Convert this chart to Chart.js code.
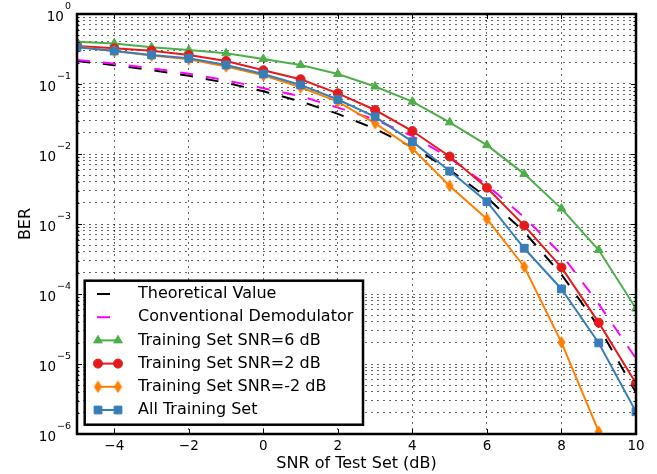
<!DOCTYPE html>
<html>
<head>
<meta charset="utf-8">
<script src="https://cdn.jsdelivr.net/npm/chart.js@4.4.1/dist/chart.umd.min.js"></script>
<style>
  html, body { margin: 0; padding: 0; background: #fff; }
  #wrap { width: 657px; height: 474px; }
</style>
</head>
<body>
<div id="wrap"><canvas id="berChart" width="657" height="474"></canvas></div>
<script>
// SNR of test set (dB)
const snr = [-5, -4, -3, -2, -1, 0, 1, 2, 3, 4, 5, 6, 7, 8, 9, 10];
const xTickValues = [-4, -2, 0, 2, 4, 6, 8, 10];
const yDecades = [-6, -5, -4, -3, -2, -1, 0];

// BER values
const theoretical = [0.213, 0.186, 0.158, 0.131, 0.104, 0.0786, 0.0563, 0.0375, 0.0229, 0.0125, 0.00595, 0.00239, 7.7e-4, 1.9e-4, 3.4e-5, 3.9e-6];
const conventional = [0.22, 0.195, 0.168, 0.14, 0.113, 0.087, 0.067, 0.046, 0.031, 0.018, 0.0088, 0.0036, 0.00125, 3.7e-4, 7.2e-5, 1.2e-5];
const train6dB = [0.40, 0.38, 0.335, 0.306, 0.274, 0.228, 0.187, 0.139, 0.092, 0.056, 0.0283, 0.0134, 0.0052, 0.00166, 4.25e-4, 6.2e-5];
const train2dB = [0.35, 0.323, 0.299, 0.26, 0.213, 0.157, 0.117, 0.0736, 0.0425, 0.0213, 0.0092, 0.0033, 9.5e-4, 2.4e-4, 3.9e-5, 5.3e-6];
const trainM2dB = [0.34, 0.295, 0.255, 0.225, 0.178, 0.133, 0.09, 0.056, 0.0274, 0.012, 0.0035, 0.00118, 2.45e-4, 2.04e-5, 1.08e-6, 4e-8];
const trainAll = [0.334, 0.296, 0.26, 0.233, 0.187, 0.139, 0.097, 0.06, 0.034, 0.015, 0.0057, 0.00208, 4.5e-4, 1.18e-4, 2.0e-5, 2.08e-6];

const FONT = '"DejaVu Sans", sans-serif';

// thin diamond marker (matplotlib 'd')
const thinDiamond = document.createElement("canvas");
thinDiamond.width = 9;
thinDiamond.height = 13;
(function () {
  const c = thinDiamond.getContext("2d");
  c.fillStyle = "#ff7f00";
  c.strokeStyle = "#ff7f00";
  c.lineWidth = 1;
  c.beginPath();
  c.moveTo(4.5, 0.8);
  c.lineTo(8, 6.5);
  c.lineTo(4.5, 12.2);
  c.lineTo(1, 6.5);
  c.closePath();
  c.fill();
  c.stroke();
})();

function lineSet(label, data, color, marker, radius, order) {
  return {
    label, data, order,
    borderColor: color,
    backgroundColor: color,
    borderWidth: 2,
    pointStyle: marker,
    pointRadius: radius,
    pointBackgroundColor: color,
    pointBorderColor: color,
    pointBorderWidth: 1,
    tension: 0,
  };
}
function dashSet(label, data, color, order) {
  return {
    label, data, order,
    borderColor: color,
    borderWidth: 2,
    borderDash: [13, 13],
    pointRadius: 0,
    tension: 0,
  };
}

const datasets = [
  dashSet("Theoretical Value", theoretical, "#000000", 6),
  dashSet("Conventional Demodulator", conventional, "#ff00ff", 5),
  lineSet("Training Set SNR=6 dB", train6dB, "#4daf4a", "triangle", 5, 4),
  lineSet("Training Set SNR=2 dB", train2dB, "#e41a1c", "circle", 4.5, 3),
  lineSet("Training Set SNR=-2 dB", trainM2dB, "#ff7f00", thinDiamond, 5, 2),
  lineSet("All Training Set", trainAll, "#377eb8", "rect", 5.5, 1),
];

const yGridValues = [];
yDecades.forEach((e) => {
  if (e === 0) { yGridValues.push(1); return; }
  for (let m = 1; m <= 9; m++) yGridValues.push(m * Math.pow(10, e));
});

function drawMarker(ctx, style, x, y, r, color) {
  ctx.save();
  ctx.setLineDash([]);
  if (style instanceof HTMLCanvasElement) {
    ctx.drawImage(style, x - style.width / 2, y - style.height / 2);
    ctx.restore();
    return;
  }
  ctx.fillStyle = color;
  ctx.strokeStyle = color;
  ctx.lineWidth = 1;
  ctx.beginPath();
  if (style === "circle") {
    ctx.arc(x, y, r, 0, Math.PI * 2);
  } else if (style === "triangle") {
    let a = 0;
    ctx.moveTo(x + Math.sin(a) * r, y - Math.cos(a) * r);
    a += (2 * Math.PI) / 3;
    ctx.lineTo(x + Math.sin(a) * r, y - Math.cos(a) * r);
    a += (2 * Math.PI) / 3;
    ctx.lineTo(x + Math.sin(a) * r, y - Math.cos(a) * r);
    ctx.closePath();
  } else if (style === "rect") {
    const h = r * Math.SQRT1_2;
    ctx.rect(x - h, y - h, 2 * h, 2 * h);
  }
  ctx.fill();
  ctx.stroke();
  ctx.restore();
}

const frameAndLegend = {
  id: "frameAndLegend",
  afterDatasetsDraw(chart) {
    const { ctx, chartArea: a, scales } = chart;
    const xs = scales.x, ys = scales.y;
    ctx.save();
    ctx.strokeStyle = "#000";
    ctx.setLineDash([]);
    // inward ticks
    ctx.lineWidth = 1;
    ctx.beginPath();
    xTickValues.forEach((v) => {
      const px = Math.round(xs.getPixelForValue(v)) + 0.5;
      ctx.moveTo(px, a.bottom); ctx.lineTo(px, a.bottom - 5);
      ctx.moveTo(px, a.top); ctx.lineTo(px, a.top + 5);
    });
    yGridValues.forEach((v) => {
      const py = Math.round(ys.getPixelForValue(v)) + 0.5;
      const major = Math.abs(Math.log10(v) - Math.round(Math.log10(v))) < 1e-9;
      const len = major ? 5 : 2.5;
      ctx.moveTo(a.left, py); ctx.lineTo(a.left + len, py);
      ctx.moveTo(a.right, py); ctx.lineTo(a.right - len, py);
    });
    ctx.stroke();
    // axes frame
    ctx.lineWidth = 2.5;
    ctx.strokeRect(a.left, a.top, a.right - a.left, a.bottom - a.top);

    // y tick labels 10^n
    const baseFont = "13.5px " + FONT;
    const supFont = "9.5px " + FONT;
    ctx.fillStyle = "#000";
    ctx.textBaseline = "middle";
    yDecades.forEach((e) => {
      const py = ys.getPixelForValue(Math.pow(10, e));
      const expText = e < 0 ? "\u2212" + -e : String(e);
      ctx.font = supFont;
      const ew = ctx.measureText(expText).width;
      const right = 71;
      ctx.textAlign = "left";
      ctx.fillText(expText, right - ew, py - 7);
      ctx.font = baseFont;
      ctx.textAlign = "right";
      ctx.fillText("10", right - ew - 1, py + 3);
    });
    ctx.restore();
  },
  afterDraw(chart) {
    const ctx = chart.ctx;
    const box = { x: 84.7, y: 280.7, w: 363 - 84.7, h: 424.7 - 280.7 };
    ctx.save();
    ctx.fillStyle = "#fff";
    ctx.fillRect(box.x, box.y, box.w, box.h);
    ctx.lineWidth = 2.5;
    ctx.strokeStyle = "#000";
    ctx.setLineDash([]);
    ctx.strokeRect(box.x, box.y, box.w, box.h);

    ctx.font = "16px " + FONT;
    ctx.textAlign = "left";
    ctx.textBaseline = "middle";
    chart.data.datasets.forEach((ds, i) => {
      const y = 294 + i * 23.2;
      ctx.save();
      ctx.strokeStyle = ds.borderColor;
      ctx.lineWidth = ds.borderWidth;
      if (ds.borderDash) {
        ctx.setLineDash(ds.borderDash);
        ctx.beginPath();
        ctx.moveTo(97, y); ctx.lineTo(122, y);
        ctx.stroke();
      } else {
        ctx.setLineDash([]);
        ctx.beginPath();
        ctx.moveTo(97, y); ctx.lineTo(119, y);
        ctx.stroke();
        drawMarker(ctx, ds.pointStyle, 98, y, ds.pointRadius, ds.borderColor);
        drawMarker(ctx, ds.pointStyle, 118, y, ds.pointRadius, ds.borderColor);
      }
      ctx.restore();
      ctx.fillStyle = "#000";
      ctx.fillText(ds.label, 138, y);
    });
    ctx.restore();
  },
};

const gridDots = { color: "rgba(0,0,0,0.6)", lineWidth: 1, drawTicks: false };

new Chart(document.getElementById("berChart"), {
  type: "line",
  data: {
    datasets: datasets.map((d) => ({
      ...d,
      data: d.data.map((v, i) => ({ x: snr[i], y: v })),
    })),
  },
  options: {
    responsive: false,
    animation: false,
    layout: { padding: { left: 0, right: 21, top: 14, bottom: 0 } },
    plugins: { legend: { display: false }, tooltip: { enabled: false } },
    scales: {
      x: {
        type: "linear",
        min: -5,
        max: 10,
        afterBuildTicks: (s) => { s.ticks = xTickValues.map((v) => ({ value: v })); },
        afterFit: (s) => { s.height = 40; },
        grid: gridDots,
        border: { display: false, dash: [2, 4] },
        ticks: {
          padding: 4,
          color: "#000",
          font: { family: FONT, size: 13.5 },
          maxRotation: 0,
          callback: (v) => (v < 0 ? "\u2212" + -v : String(v)),
        },
        title: {
          display: true,
          text: "SNR of Test Set (dB)",
          color: "#000",
          font: { family: FONT, size: 16 },
          padding: { top: 0, bottom: 1 },
        },
      },
      y: {
        type: "logarithmic",
        min: 1e-6,
        max: 1,
        afterBuildTicks: (s) => { s.ticks = yGridValues.map((v) => ({ value: v })); },
        afterFit: (s) => { s.width = 77; },
        grid: gridDots,
        border: { display: false, dash: [2, 4] },
        ticks: { display: false },
        title: {
          display: true,
          text: "BER",
          color: "#000",
          font: { family: FONT, size: 16 },
          padding: { top: 16, bottom: 0 },
        },
      },
    },
  },
  plugins: [frameAndLegend],
});
</script>
</body>
</html>
